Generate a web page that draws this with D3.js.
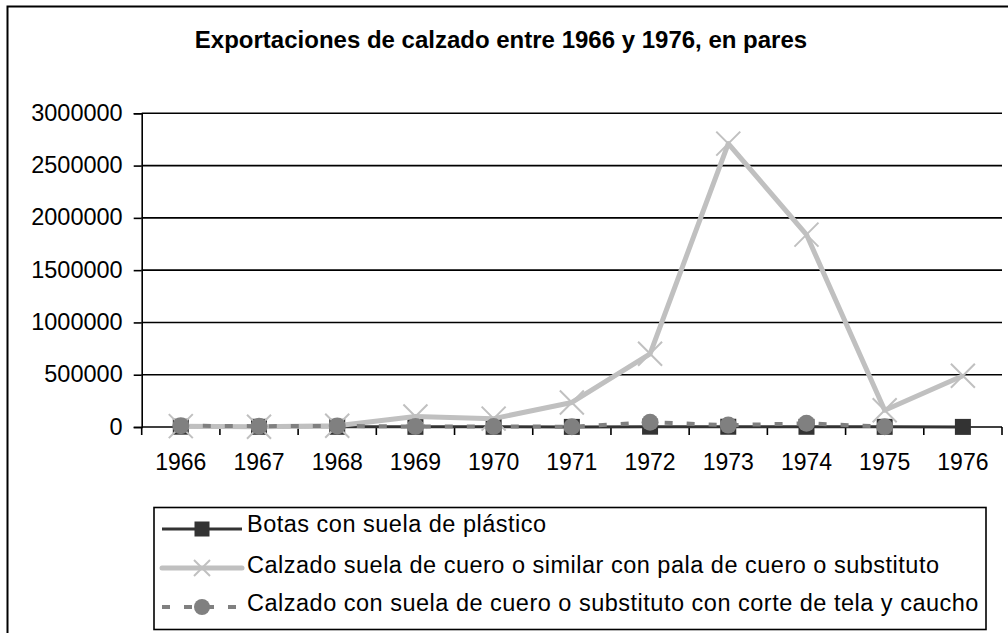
<!DOCTYPE html>
<html>
<head>
<meta charset="utf-8">
<script src="https://cdn.jsdelivr.net/npm/d3@7"></script>
<style>
  html, body { margin: 0; padding: 0; background: #fff; }
  svg { display: block; font-family: "Liberation Sans", Arial, sans-serif; }
</style>
</head>
<body>
<svg id="chart" width="1008" height="633"></svg>
<script>
// ---- data ----
const title = "Exportaciones de calzado entre 1966 y 1976, en pares";
const years = ["1966","1967","1968","1969","1970","1971","1972","1973","1974","1975","1976"];
const yTicks = [0, 500000, 1000000, 1500000, 2000000, 2500000, 3000000];
const seriesNames = [
  "Botas con suela de plástico",
  "Calzado suela de cuero o similar con pala de cuero o substituto",
  "Calzado con suela de cuero o substituto con corte de tela y caucho"
];
const botas = [3000, 2000, 2000, 1500, 2000, 1000, 3000, 2500, 2000, 1500, 1000];
const cueroPala = [8000, 3000, 12000, 100000, 80000, 235000, 700000, 2710000, 1840000, 160000, 490000];
const telaCaucho = [12000, 8000, 10000, 5000, 5000, 3000, 45000, 18000, 35000, 3000];

// ---- layout ----
const svg = d3.select("#chart");
const L = 141.7, R = 1002, T = 113.3, B = 427;

const x = d3.scaleBand().domain(years).range([L, R]).padding(0);
const y = d3.scaleLinear().domain([0, 3000000]).range([B, T]);
const cx = d => x(d) + x.bandwidth() / 2;

// outer border (right/bottom edges fall outside the picture)
svg.append("rect").attr("x", 7.5).attr("y", 6.5).attr("width", 1010).attr("height", 640)
  .attr("fill", "none").attr("stroke", "#000").attr("stroke-width", 2);

// title
svg.append("text").attr("x", 501).attr("y", 48).attr("text-anchor", "middle")
  .attr("font-size", 24).attr("font-weight", "bold").text(title);

// gridlines
svg.append("g").selectAll("line").data(yTicks.filter(v => v > 0)).join("line")
  .attr("x1", L).attr("x2", R).attr("y1", d => y(d)).attr("y2", d => y(d))
  .attr("stroke", "#000").attr("stroke-width", 1.6);

// y axis
const yAxis = svg.append("g").attr("transform", `translate(${L},0)`)
  .call(d3.axisLeft(y).tickValues(yTicks).tickFormat(d3.format("d")).tickSize(8).tickPadding(11));
yAxis.select(".domain").attr("stroke", "#000").attr("stroke-width", 1.6);
yAxis.selectAll(".tick line").attr("stroke", "#000").attr("stroke-width", 1.6);
yAxis.selectAll(".tick text").attr("font-size", 23.5).attr("fill", "#000")
  .attr("font-family", "Liberation Sans, Arial, sans-serif").attr("dy", "0.3em");

// x axis: line + boundary ticks
const xg = svg.append("g");
xg.append("line").attr("x1", L).attr("x2", R).attr("y1", B).attr("y2", B)
  .attr("stroke", "#000").attr("stroke-width", 1.6);
const bounds = years.map(d => x(d)).concat([R]);
xg.selectAll("line.tk").data(bounds).join("line").attr("class", "tk")
  .attr("x1", d => d).attr("x2", d => d).attr("y1", B).attr("y2", B + 8)
  .attr("stroke", "#000").attr("stroke-width", 1.6);
xg.selectAll("text").data(years).join("text")
  .attr("x", d => cx(d)).attr("y", 469.5).attr("text-anchor", "middle")
  .attr("font-size", 23).attr("fill", "#000").text(d => d);

// ---- series ----
const line = d3.line().x((d, i) => cx(years[i])).y(d => y(d));

// series 1: dark solid, squares
svg.append("path").datum(botas).attr("d", line).attr("fill", "none")
  .attr("stroke", "#333").attr("stroke-width", 3);
svg.append("g").selectAll("rect").data(botas).join("rect")
  .attr("x", (d, i) => cx(years[i]) - 8).attr("y", d => y(d) - 8)
  .attr("width", 16).attr("height", 16).attr("fill", "#333");

// series 2: light grey thick, X markers
svg.append("path").datum(cueroPala).attr("d", line).attr("fill", "none")
  .attr("stroke", "#c0c0c0").attr("stroke-width", 5).attr("stroke-linejoin", "round");
const xm = svg.append("g");
cueroPala.forEach((d, i) => {
  const px = cx(years[i]), py = y(d), s = 12;
  xm.append("path").attr("d", `M${px - s},${py - s}L${px + s},${py + s}M${px - s},${py + s}L${px + s},${py - s}`)
    .attr("stroke", "#c0c0c0").attr("stroke-width", 2).attr("fill", "none");
});

// series 3: grey dashed, circles
svg.append("path").datum(telaCaucho).attr("d", line).attr("fill", "none")
  .attr("stroke", "#808080").attr("stroke-width", 4).attr("stroke-dasharray", "8,14");
svg.append("g").selectAll("circle").data(telaCaucho).join("circle")
  .attr("cx", (d, i) => cx(years[i])).attr("cy", d => y(d)).attr("r", 8.5).attr("fill", "#808080");

// ---- legend ----
const lg = svg.append("g");
lg.append("rect").attr("x", 154).attr("y", 507.5).attr("width", 832).attr("height", 122)
  .attr("fill", "#fff").attr("stroke", "#000").attr("stroke-width", 1.6);
const rowsY = [529, 568, 607];
const baseY = [532, 573, 611];
const sx1 = 162, sx2 = 242, smid = 202;
// row 1
lg.append("line").attr("x1", sx1).attr("x2", sx2).attr("y1", rowsY[0]).attr("y2", rowsY[0])
  .attr("stroke", "#333").attr("stroke-width", 3);
lg.append("rect").attr("x", smid - 7.5).attr("y", rowsY[0] - 7.5).attr("width", 15).attr("height", 15).attr("fill", "#333");
// row 2
lg.append("line").attr("x1", sx1).attr("x2", sx2).attr("y1", rowsY[1]).attr("y2", rowsY[1])
  .attr("stroke", "#c0c0c0").attr("stroke-width", 5).attr("stroke-linecap", "round");
lg.append("path").attr("d", `M${smid - 8},${rowsY[1] - 8}L${smid + 8},${rowsY[1] + 8}M${smid - 8},${rowsY[1] + 8}L${smid + 8},${rowsY[1] - 8}`)
  .attr("stroke", "#c0c0c0").attr("stroke-width", 2);
// row 3
lg.append("line").attr("x1", sx1).attr("x2", sx2).attr("y1", rowsY[2]).attr("y2", rowsY[2])
  .attr("stroke", "#808080").attr("stroke-width", 4).attr("stroke-dasharray", "8,14");
lg.append("circle").attr("cx", smid).attr("cy", rowsY[2]).attr("r", 8).attr("fill", "#808080");
lg.selectAll("text").data(seriesNames).join("text")
  .attr("x", 247).attr("y", (d, i) => baseY[i])
  .attr("font-size", 23.5).attr("letter-spacing", 0.5).attr("fill", "#000").text(d => d);
</script>
</body>
</html>
